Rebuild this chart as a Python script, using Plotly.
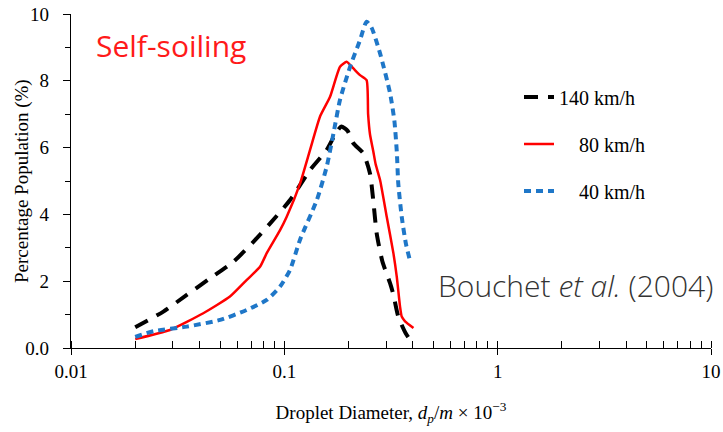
import plotly.graph_objects as go

# 140 km/h
x140 = [0.02, 0.0271, 0.0349, 0.0449, 0.0577, 0.0716, 0.085, 0.1064, 0.132, 0.158, 0.175, 0.185,
        0.198, 0.2107, 0.2344, 0.252, 0.261, 0.271, 0.288, 0.313, 0.3245, 0.342, 0.37, 0.395, 0.41]
y140 = [0.62, 1.09, 1.59, 2.09, 2.58, 3.18, 3.7, 4.43, 5.33, 5.93, 6.45, 6.63,
        6.5, 6.13, 5.83, 5.23, 4.43, 3.43, 2.6, 1.94, 1.6, 0.94, 0.45, 0.19, 0.12]

# 80 km/h
x80 = [0.02, 0.0291, 0.0417, 0.0556, 0.0667, 0.0769, 0.0827, 0.0955, 0.1026, 0.1186, 0.132, 0.147,
       0.1638, 0.1824, 0.196, 0.2107, 0.2264, 0.243, 0.247, 0.252, 0.261, 0.268, 0.281, 0.302,
       0.3245, 0.3366, 0.3486, 0.355, 0.368, 0.403]
y80 = [0.27, 0.54, 1.04, 1.54, 2.04, 2.43, 2.84, 3.53, 3.93, 4.93, 5.93, 6.93,
       7.52, 8.42, 8.57, 8.37, 8.17, 8.02, 7.0, 6.4, 5.9, 5.5, 5.03, 3.93,
       2.84, 2.13, 1.24, 0.94, 0.8, 0.6]

# 40 km/h
x40 = [0.02, 0.0243, 0.0349, 0.05, 0.0667, 0.0827, 0.0955, 0.1064, 0.1186, 0.142, 0.158, 0.170,
       0.1824, 0.2033, 0.2264, 0.243, 0.256, 0.281, 0.313, 0.328, 0.337, 0.342, 0.355, 0.372, 0.391]
y40 = [0.33, 0.5, 0.64, 0.84, 1.14, 1.44, 1.84, 2.34, 3.25, 4.43, 5.43, 6.43,
       7.43, 8.42, 9.22, 9.77, 9.6, 8.82, 7.63, 6.8, 5.83, 4.93, 3.93, 3.1, 2.54]

xticks = [0.01, 0.1, 1, 10]
xticklabels = ["0.01", "0.1", "1", "10"]
yticks = [0, 2, 4, 6, 8, 10]
yticklabels = ["0.0", "2", "4", "6", "8", "10"]

serif = "Liberation Serif, Times New Roman, serif"

fig = go.Figure()
fig.add_trace(go.Scatter(x=x140, y=y140, mode="lines", name="140 km/h", legendgroup="a",
                         line=dict(color="black", width=4, dash="14px,10px", shape="spline", smoothing=0.6)))
fig.add_trace(go.Scatter(x=x80, y=y80, mode="lines", name="\u2002\u200280 km/h", legendgroup="b",
                         line=dict(color="#ff0000", width=2.5, shape="spline", smoothing=0.5)))
fig.add_trace(go.Scatter(x=x40, y=y40, mode="lines", name="\u2002\u200240 km/h", legendgroup="c",
                         line=dict(color="#1f77c8", width=4, dash="7px,5px", shape="spline", smoothing=0.6)))

fig.update_layout(
    width=723, height=432,
    margin=dict(l=71, r=12, t=14, b=84),
    plot_bgcolor="white", paper_bgcolor="white",
    font=dict(family=serif, size=17, color="black"),
    legend=dict(x=0.70, y=0.81, xanchor="left", yanchor="top", tracegroupgap=18,
                font=dict(family=serif, size=20), bgcolor="rgba(0,0,0,0)"),
    xaxis=dict(type="log", range=[-2, 1], tickvals=xticks, ticktext=xticklabels, automargin=False,
               showline=True, linecolor="black", linewidth=1.2, showgrid=False, zeroline=False,
               ticks="outside", ticklen=6, tickcolor="black", tickwidth=1.2,
               minor=dict(ticks="inside", ticklen=7, tickcolor="black", dtick="D1", showgrid=False),
               tickfont=dict(family=serif, size=19),
               title=dict(text="Droplet Diameter, <i>d<sub>p</sub></i>/<i>m</i> \u00d7 10<sup>\u22123</sup>",
                          font=dict(family=serif, size=19), standoff=24)),
    yaxis=dict(range=[0, 10], tickvals=yticks, ticktext=yticklabels, automargin=False,
               showline=True, linecolor="black", linewidth=1.2, showgrid=False, zeroline=False,
               ticks="outside", ticklen=7, tickcolor="black", tickwidth=1.2, ticklabelstandoff=10,
               minor=dict(ticks="outside", ticklen=5, tickcolor="black", tickvals=[1, 3, 5, 7, 9], showgrid=False),
               tickfont=dict(family=serif, size=19)),
    annotations=[
        dict(text="Percentage Population (%)", xref="paper", yref="paper", x=-0.0766, y=0.5,
             xanchor="center", yanchor="middle", textangle=-90, showarrow=False,
             font=dict(family=serif, size=19, color="black")),
        dict(text="Self-soiling", xref="paper", yref="paper", x=0.036, y=0.907, xanchor="left", yanchor="middle",
             showarrow=False, font=dict(family="Open Sans", size=30, color="#ff1a1a")),
        dict(text="Bouchet <i>et al.</i> (2004)", xref="paper", yref="paper", x=1.007, y=0.188,
             xanchor="right", yanchor="middle", showarrow=False,
             font=dict(family="Open Sans", size=30, color="#333333", weight=300)),
    ],
)

fig.write_html("out.html", config={"displayModeBar": False},
               post_script="document.body.style.margin='0';")
